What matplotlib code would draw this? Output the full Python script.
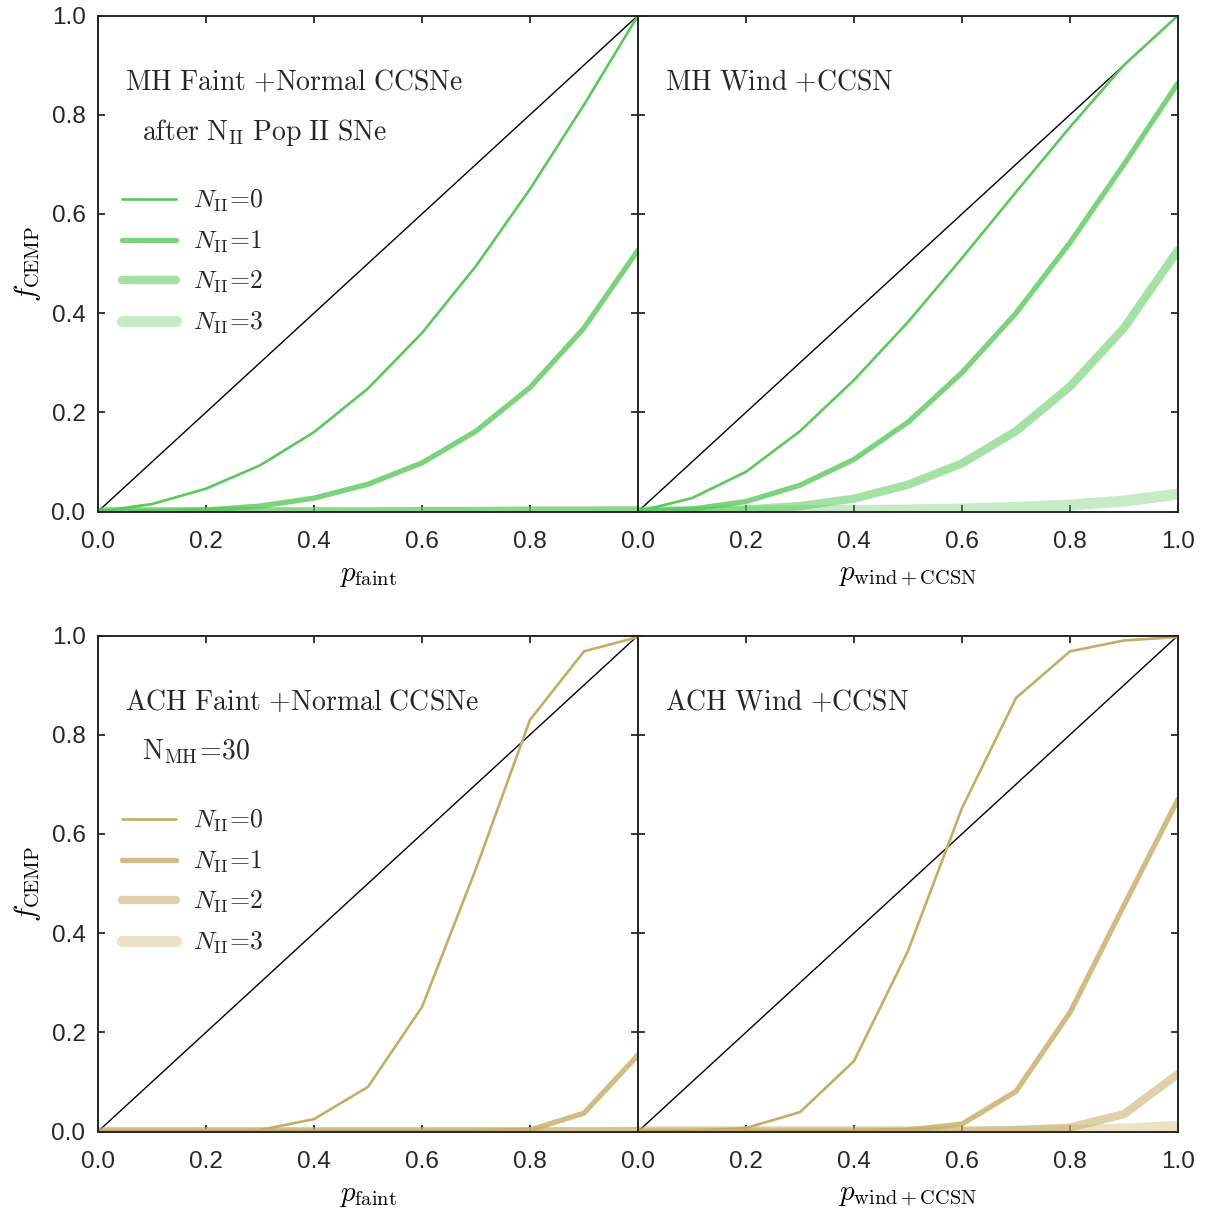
import matplotlib
matplotlib.use("Agg")
import matplotlib.pyplot as plt
import numpy as np

plt.rcParams['font.family'] = ['Liberation Sans', 'DejaVu Sans']
plt.rcParams['mathtext.fontset'] = 'cm'

p = [0.0, 0.1, 0.2, 0.3, 0.4, 0.5, 0.6, 0.7, 0.8, 0.9, 1.0]

# MH Faint + Normal CCSNe
mh_faint_n0 = [0.0, 0.015, 0.046, 0.093, 0.16, 0.248, 0.36, 0.495, 0.65, 0.82, 1.0]
mh_faint_n1 = [0.0, 0.0, 0.003, 0.011, 0.027, 0.055, 0.098, 0.162, 0.25, 0.37, 0.527]
mh_faint_n2 = [0.0, 0.0, 0.0, 0.0, 0.0, 0.0, 0.001, 0.001, 0.002, 0.002, 0.003]
mh_faint_n3 = [0.0, 0.0, 0.0, 0.0, 0.0, 0.0, 0.0, 0.0, 0.0, 0.0, 0.0]

# MH Wind + CCSN
mh_wind_n0 = [0.0, 0.027, 0.08, 0.162, 0.265, 0.382, 0.511, 0.644, 0.775, 0.9, 1.0]
mh_wind_n1 = [0.0, 0.005, 0.02, 0.053, 0.105, 0.18, 0.28, 0.40, 0.542, 0.70, 0.864]
mh_wind_n2 = [0.0, 0.0, 0.004, 0.011, 0.026, 0.054, 0.097, 0.162, 0.252, 0.37, 0.527]
mh_wind_n3 = [0.0, 0.0, 0.0, 0.001, 0.002, 0.003, 0.005, 0.008, 0.013, 0.021, 0.035]

# ACH Faint + Normal CCSNe
ach_faint_n0 = [0.0, 0.0, 0.0, 0.003, 0.025, 0.09, 0.251, 0.53, 0.83, 0.968, 0.997]
ach_faint_n1 = [0.0, 0.0, 0.0, 0.0, 0.0, 0.0, 0.0, 0.0, 0.003, 0.037, 0.154]
ach_faint_n2 = [0.0, 0.0, 0.0, 0.0, 0.0, 0.0, 0.0, 0.0, 0.0, 0.0, 0.001]
ach_faint_n3 = [0.0, 0.0, 0.0, 0.0, 0.0, 0.0, 0.0, 0.0, 0.0, 0.0, 0.0]

# ACH Wind + CCSN
ach_wind_n0 = [0.0, 0.002, 0.007, 0.039, 0.142, 0.364, 0.652, 0.874, 0.968, 0.99, 0.997]
ach_wind_n1 = [0.0, 0.0, 0.0, 0.0, 0.0, 0.003, 0.015, 0.081, 0.24, 0.456, 0.67]
ach_wind_n2 = [0.0, 0.0, 0.0, 0.0, 0.0, 0.0, 0.0, 0.003, 0.008, 0.035, 0.116]
ach_wind_n3 = [0.0, 0.0, 0.0, 0.0, 0.0, 0.0, 0.0, 0.0, 0.002, 0.005, 0.01]

legend_labels = [r'$N_{\rm II}\!=\!0$', r'$N_{\rm II}\!=\!1$', r'$N_{\rm II}\!=\!2$', r'$N_{\rm II}\!=\!3$']
alphas = [1.0, 0.8, 0.55, 0.35]
widths = [1.9, 3.8, 6.0, 8.0]
green = (92/255, 200/255, 92/255)
tan = (198/255, 172/255, 100/255)
ticks = [0.0, 0.2, 0.4, 0.6, 0.8, 1.0]
tick_labels = ['0.0', '0.2', '0.4', '0.6', '0.8', '1.0']

fig = plt.figure(figsize=(12.09, 12.12), dpi=100)
W = 540/1209
H = 496/1212
L = 98/1209
pos = {
    (0, 0): [L, 1 - 511.5/1212, W, H],
    (0, 1): [L + W, 1 - 511.5/1212, W, H],
    (1, 0): [L, 1 - 1131.5/1212, W, H],
    (1, 1): [L + W, 1 - 1131.5/1212, W, H],
}

panels = [
    ((0, 0), [mh_faint_n0, mh_faint_n1, mh_faint_n2, mh_faint_n3], green,
     r'$\mathrm{MH\ Faint\ {+}Normal\ CCSNe}$', r'$\mathrm{after\ N_{II}\ Pop\ II\ SNe}$', r'$p_{\rm faint}$'),
    ((0, 1), [mh_wind_n0, mh_wind_n1, mh_wind_n2, mh_wind_n3], green,
     r'$\mathrm{MH\ Wind\ {+}CCSN}$', None, r'$p_{\rm wind+CCSN}$'),
    ((1, 0), [ach_faint_n0, ach_faint_n1, ach_faint_n2, ach_faint_n3], tan,
     r'$\mathrm{ACH\ Faint\ {+}Normal\ CCSNe}$', r'$\mathrm{N_{MH}\!=\!30}$', r'$p_{\rm faint}$'),
    ((1, 1), [ach_wind_n0, ach_wind_n1, ach_wind_n2, ach_wind_n3], tan,
     r'$\mathrm{ACH\ Wind\ {+}CCSN}$', None, r'$p_{\rm wind+CCSN}$'),
]

for (r, c), series, col, t1, t2, xl in panels:
    ax = fig.add_axes(pos[(r, c)])
    ax.plot([0, 1], [0, 1], color='black', lw=1.0, zorder=1)
    for i, s in enumerate(series):
        ax.plot(p, s, color=col, alpha=alphas[i], lw=widths[i], label=legend_labels[i],
                solid_capstyle='round', solid_joinstyle='round', zorder=2)
    ax.set_xlim(0, 1)
    ax.set_ylim(0, 1)
    ax.set_xticks(ticks)
    if c == 0:
        ax.set_xticklabels(tick_labels[:-1] + [''])
        ax.set_yticks(ticks)
        ax.set_yticklabels(tick_labels)
        ax.set_ylabel(r'$f_{\rm CEMP}$', fontsize=21, labelpad=6)
    else:
        ax.set_xticklabels(tick_labels)
        ax.set_yticks(ticks)
        ax.set_yticklabels([])
    ax.tick_params(direction='in', length=5, width=1.3, top=True, right=True,
                   labelsize=17.5, colors='#262626')
    ax.tick_params(axis='x', pad=14)
    ax.tick_params(axis='y', pad=9)
    for sp in ax.spines.values():
        sp.set_linewidth(1.4)
        sp.set_color('#262626')
    ax.set_xlabel(xl, fontsize=21, labelpad=6)
    ax.text(0.05, 0.865, t1, transform=ax.transAxes, fontsize=20, color='#262626',
            va='center', ha='left')
    if t2 is not None:
        ax.text(0.081, 0.765, t2, transform=ax.transAxes, fontsize=20, color='#262626',
                va='center', ha='left')
    if c == 0:
        leg = ax.legend(loc='center left', bbox_to_anchor=(0.045, 0.503), frameon=False,
                        fontsize=18.5, handlelength=2.1, handletextpad=0.65,
                        labelspacing=0.55, borderpad=0, borderaxespad=0)
        for t in leg.get_texts():
            t.set_color('#262626')

fig.savefig('out.png', dpi=100)
